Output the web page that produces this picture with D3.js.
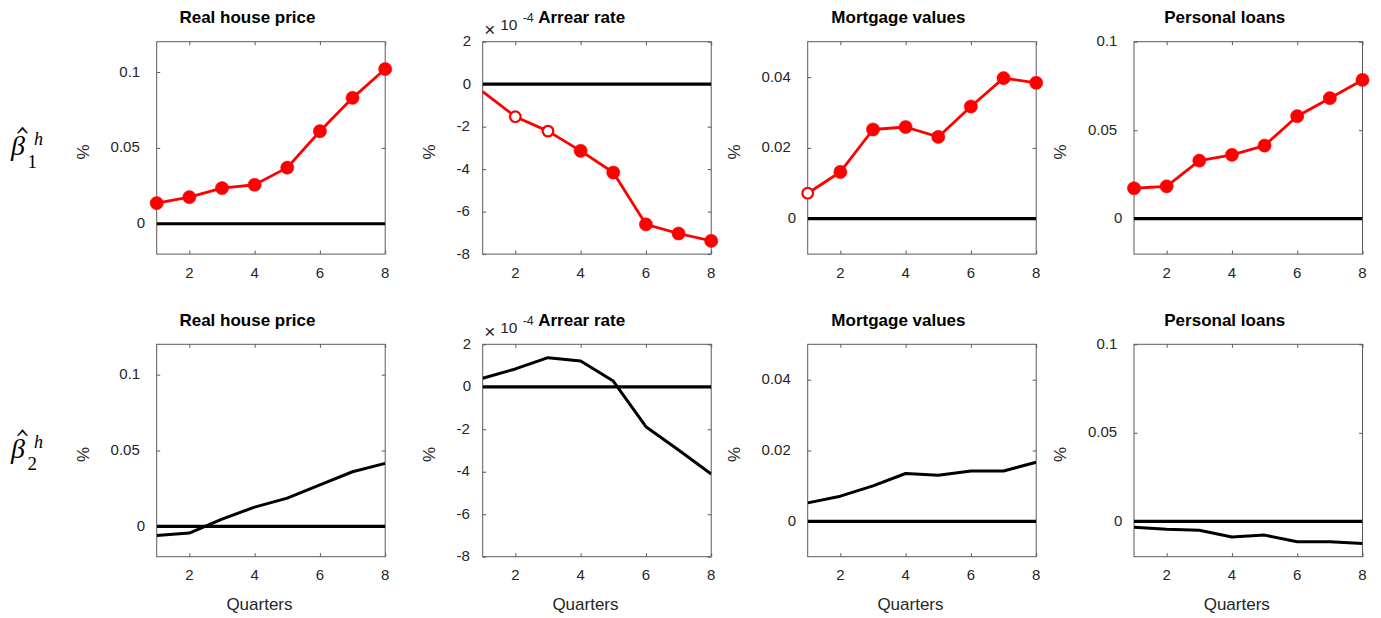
<!DOCTYPE html>
<html>
<head>
<meta charset="utf-8">
<script src="https://cdn.jsdelivr.net/npm/d3@7"></script>
<style>
  html, body { margin: 0; padding: 0; background: #fff; }
  svg { display: block; }
</style>
</head>
<body>
<svg id="chart" width="1381" height="618"></svg>
<script>
// ---------------- data ----------------
const quarters = [1, 2, 3, 4, 5, 6, 7, 8];
const panelTitles = ["Real house price", "Arrear rate", "Mortgage values", "Personal loans"];
const rowLabels = ["1", "2"];
const xAxisLabel = "Quarters";
const yAxisLabel = "%";

// row 1 (beta_1^h), red with significance markers
const beta1House    = [0.0136, 0.0175, 0.0235, 0.0257, 0.0370, 0.0610, 0.0830, 0.1020];
const beta1Arrear   = [-0.35e-4, -1.53e-4, -2.21e-4, -3.14e-4, -4.16e-4, -6.60e-4, -7.03e-4, -7.38e-4];
const beta1Mortgage = [0.0072, 0.0132, 0.0252, 0.0259, 0.0231, 0.0317, 0.0397, 0.0384];
const beta1Personal = [0.0172, 0.0183, 0.0328, 0.0361, 0.0413, 0.0579, 0.0681, 0.0784];

// marker type: f = filled, o = open, n = none
const beta1HouseSig    = ["f", "f", "f", "f", "f", "f", "f", "f"];
const beta1ArrearSig   = ["n", "o", "o", "f", "f", "f", "f", "f"];
const beta1MortgageSig = ["o", "f", "f", "f", "f", "f", "f", "f"];
const beta1PersonalSig = ["f", "f", "f", "f", "f", "f", "f", "f"];

// row 2 (beta_2^h), black lines
const beta2House    = [-0.0061, -0.0044, 0.0048, 0.0127, 0.0186, 0.0273, 0.0360, 0.0415];
const beta2Arrear   = [0.40e-4, 0.84e-4, 1.37e-4, 1.21e-4, 0.27e-4, -1.88e-4, -2.98e-4, -4.11e-4];
const beta2Mortgage = [0.0052, 0.0071, 0.0100, 0.0135, 0.0130, 0.0142, 0.0142, 0.0167];
const beta2Personal = [-0.0034, -0.0045, -0.0051, -0.0089, -0.0078, -0.0115, -0.0115, -0.0125];

// axes
const yDomains = [[-0.02, 0.12], [-8e-4, 2e-4], [-0.01, 0.05], [-0.02, 0.1]];
const yTickValues = [[0, 0.05, 0.1], [-8e-4, -6e-4, -4e-4, -2e-4, 0, 2e-4], [0, 0.02, 0.04], [0, 0.05, 0.1]];
const yTickLabels = [["0", "0.05", "0.1"], ["-8", "-6", "-4", "-2", "0", "2"], ["0", "0.02", "0.04"], ["0", "0.05", "0.1"]];
const xTickValues = [2, 4, 6, 8];
const xTickLabels = ["2", "4", "6", "8"];
const exponentLabel = ["×", "10", "-4"];

const row1Series = [beta1House, beta1Arrear, beta1Mortgage, beta1Personal];
const row1Sig = [beta1HouseSig, beta1ArrearSig, beta1MortgageSig, beta1PersonalSig];
const row2Series = [beta2House, beta2Arrear, beta2Mortgage, beta2Personal];

// ---------------- layout ----------------
const colLeft = [156.7, 482.7, 807.7, 1134];
const boxW = 228.5;
const rowTop = [41.7, 344.3];
const boxH = 212.4;
const sans = "'Liberation Sans', Arial, Helvetica, sans-serif";
const serif = "'Liberation Serif', 'Times New Roman', serif";
const txt = "#262626";
const axisCol = "#5a5a5a";

const svg = d3.select("#chart");

function labelWidth(s) {
  let w = 0;
  for (const ch of s) w += (ch === "-") ? 6.3 : 8.7;
  return w;
}

function drawPanel(r, c) {
  const x0 = colLeft[c], y0 = rowTop[r];
  const x = d3.scaleLinear().domain([1, 8]).range([x0, x0 + boxW]);
  const y = d3.scaleLinear().domain(yDomains[c]).range([y0 + boxH, y0]);
  const g = svg.append("g");
  const clipId = `clip-${r}-${c}`;
  svg.append("clipPath").attr("id", clipId).append("rect")
    .attr("x", x0).attr("y", y0).attr("width", boxW).attr("height", boxH);

  // box
  g.append("rect").attr("x", x0).attr("y", y0).attr("width", boxW).attr("height", boxH)
    .attr("fill", "none").attr("stroke", axisCol).attr("stroke-width", 1);

  // ticks (inward, all four sides) via d3 axes
  const tickLen = 3.5;
  const axB = d3.axisTop(x).tickValues(xTickValues).tickSize(tickLen).tickFormat("");
  const axT = d3.axisBottom(x).tickValues(xTickValues).tickSize(tickLen).tickFormat("");
  const axL = d3.axisRight(y).tickValues(yTickValues[c]).tickSize(tickLen).tickFormat("");
  const axR = d3.axisLeft(y).tickValues(yTickValues[c]).tickSize(tickLen).tickFormat("");
  [[axB, `translate(0,${y0 + boxH})`], [axT, `translate(0,${y0})`],
   [axL, `translate(${x0},0)`], [axR, `translate(${x0 + boxW},0)`]].forEach(([ax, tr]) => {
    const a = g.append("g").attr("transform", tr).call(ax);
    a.select(".domain").remove();
    a.selectAll("line").attr("stroke", axisCol).attr("stroke-width", 1);
  });

  // x tick labels
  g.selectAll(".xtl").data(xTickValues).enter().append("text")
    .attr("x", d => x(d)).attr("y", y0 + boxH + 23.5)
    .attr("text-anchor", "middle").attr("font-family", sans).attr("font-size", 15)
    .attr("fill", txt).text((d, i) => xTickLabels[i]);

  // y tick labels
  const R = x0 - 11.3;
  g.selectAll(".ytl").data(yTickValues[c]).enter().append("text")
    .attr("x", (d, i) => R - labelWidth(yTickLabels[c][i]))
    .attr("y", d => y(d) + 4.5)
    .attr("text-anchor", "start").attr("font-family", sans).attr("font-size", 15)
    .attr("fill", txt).text((d, i) => yTickLabels[c][i]);

  // y axis label
  const maxW = d3.max(yTickLabels[c], labelWidth);
  const lx = R - maxW - 27.5, ly = y0 + boxH / 2 + 4;
  g.append("text").attr("transform", `translate(${lx + 6},${ly}) rotate(-90)`)
    .attr("text-anchor", "middle").attr("font-family", sans).attr("font-size", 17)
    .attr("fill", txt).text(yAxisLabel);

  // exponent label for arrear rate
  if (c === 1) {
    g.append("text").attr("x", x0 + 1.5).attr("y", y0 - 6).attr("font-family", sans)
      .attr("font-size", 19).attr("fill", txt).text(exponentLabel[0]);
    g.append("text").attr("x", x0 + 17.5).attr("y", y0 - 11.5).attr("font-family", sans)
      .attr("font-size", 15.5).attr("fill", txt).text(exponentLabel[1]);
    g.append("text").attr("x", x0 + 40).attr("y", y0 - 19.5).attr("font-family", sans)
      .attr("font-size", 12.5).attr("fill", txt).text(exponentLabel[2]);
  }

  // title
  const t = g.append("text").attr("y", y0 - 18.8).attr("font-family", sans)
    .attr("font-size", 17).attr("font-weight", "bold").attr("fill", "#000")
    .text(panelTitles[c]);
  if (c === 1) t.attr("x", x0 + 55.5).attr("text-anchor", "start");
  else t.attr("x", x0 + boxW / 2 - 23.5).attr("text-anchor", "middle");

  // x axis label (bottom row only)
  if (r === 1) {
    g.append("text").attr("x", x0 + boxW / 2 - 11.5).attr("y", y0 + boxH + 53)
      .attr("text-anchor", "middle").attr("font-family", sans).attr("font-size", 17)
      .attr("fill", txt).text(xAxisLabel);
  }

  const plot = g.append("g").attr("clip-path", `url(#${clipId})`);
  // zero line
  plot.append("line").attr("x1", x(1)).attr("x2", x(8)).attr("y1", y(0)).attr("y2", y(0))
    .attr("stroke", "#000").attr("stroke-width", 3.2);

  const line = d3.line().x((d, i) => x(quarters[i])).y(d => y(d));
  const marks = g.append("g");
  if (r === 0) {
    const vals = row1Series[c], sig = row1Sig[c];
    const pts = vals.map((v, i) => ({ q: quarters[i], v, s: sig[i] }));
    marks.append("path").datum(vals).attr("d", line).attr("fill", "none")
      .attr("stroke", "#ff0000").attr("stroke-width", 2.8).attr("stroke-linejoin", "round");
    marks.selectAll(".m").data(pts.filter(p => p.s !== "n")).enter().append("circle")
      .attr("cx", p => x(p.q))
      .attr("cy", p => y(p.v))
      .attr("r", p => p.s === "f" ? 6.6 : 5.3)
      .attr("fill", p => p.s === "f" ? "#ff0000" : "#fff")
      .attr("stroke", "#ff0000")
      .attr("stroke-width", p => p.s === "f" ? 0.5 : 2.2);
  } else {
    plot.append("path").datum(row2Series[c]).attr("d", line).attr("fill", "none")
      .attr("stroke", "#000").attr("stroke-width", 3).attr("stroke-linejoin", "round");
  }
}

for (let r = 0; r < 2; r++) for (let c = 0; c < 4; c++) drawPanel(r, c);

// row labels: beta-hat with subscript and superscript h
rowLabels.forEach((sub, r) => {
  const by = 155 + r * 302.6;
  const g = svg.append("g");
  g.append("text").attr("x", 11).attr("y", by).attr("font-family", serif)
    .attr("font-style", "italic").attr("font-size", 28).attr("fill", "#000").text("β");
  // hat (circumflex) drawn as a small path
  g.append("path")
    .attr("d", `M17.5,${by - 22} L22.5,${by - 28} L27.5,${by - 22} L26.3,${by - 22} L22.5,${by - 26} L18.7,${by - 22} Z`)
    .attr("fill", "#000").attr("stroke", "#000").attr("stroke-width", 0.6);
  g.append("text").attr("x", 34).attr("y", by - 10).attr("font-family", serif)
    .attr("font-style", "italic").attr("font-size", 18).attr("fill", "#000").text("h");
  g.append("text").attr("x", 27.5).attr("y", by + 12.5).attr("font-family", serif)
    .attr("font-size", 19).attr("fill", "#000").text(sub);
});
</script>
</body>
</html>
